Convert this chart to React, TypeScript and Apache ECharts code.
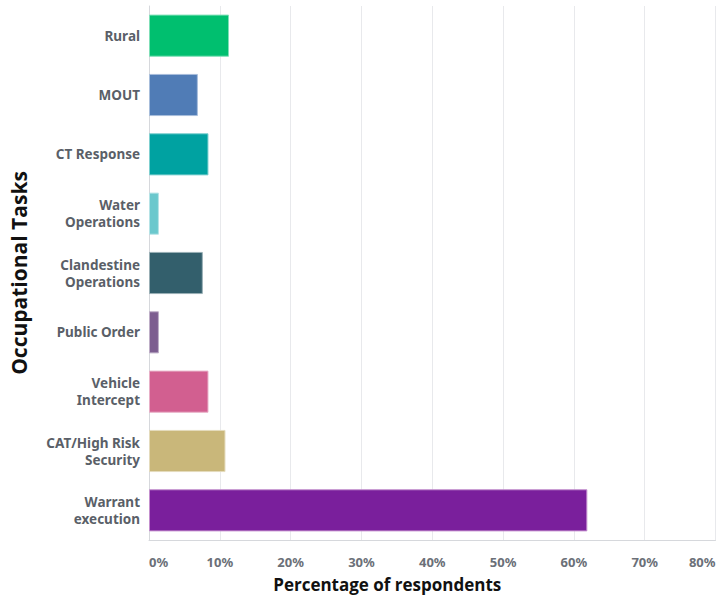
import React, { useEffect, useRef } from "react";
import * as echarts from "echarts";

const categories = [
  "Rural",
  "MOUT",
  "CT Response",
  "Water\nOperations",
  "Clandestine\nOperations",
  "Public Order",
  "Vehicle\nIntercept",
  "CAT/High Risk\nSecurity",
  "Warrant\nexecution",
];
const values = [11.3, 6.9, 8.4, 1.4, 7.6, 1.4, 8.4, 10.8, 61.9];
const colors = [
  "#00BF6F",
  "#507CB6",
  "#00A2A1",
  "#6BC8CD",
  "#335F6C",
  "#7D5E90",
  "#D25F90",
  "#C9B77A",
  "#7A1F9C",
];
const borderColors = [
  "#7fdfb7",
  "#a7bddb",
  "#7fd0d0",
  "#b5e3e6",
  "#99afb5",
  "#beaec7",
  "#e8afc7",
  "#e4dbbc",
  "#c48fce",
];

export default function App() {
  const ref = useRef<HTMLDivElement>(null);
  useEffect(() => {
    if (!ref.current) return;
    const chart = echarts.init(ref.current, null, { renderer: "svg" });
    chart.setOption({
      animation: false,
      backgroundColor: "#ffffff",
      grid: { left: 147.5, right: 6.5, top: 6, bottom: 63, containLabel: false },
      xAxis: {
        type: "value",
        min: 0,
        max: 80,
        interval: 10,
        name: "Percentage of respondents",
        nameLocation: "middle",
        nameGap: 36,
        nameTextStyle: {
          fontFamily: "Open Sans",
          fontWeight: "bold",
          fontSize: 17,
          color: "#111111",
          padding: [0, 90, 0, 0],
        },
        axisLine: { show: true, lineStyle: { color: "#d6d8dc", width: 1 } },
        axisTick: { show: false },
        splitLine: { show: true, lineStyle: { color: "#e8e9ec", width: 1 } },
        axisLabel: {
          formatter: "{value}%",
          margin: 15,
          fontFamily: "Noto Sans",
          fontWeight: "bold",
          fontSize: 13,
          color: "#6b7078",
          alignMinLabel: "left",
          alignMaxLabel: "right",
        },
      },
      yAxis: {
        type: "category",
        data: categories,
        inverse: true,
        name: "Occupational Tasks",
        nameLocation: "middle",
        nameGap: 120,
        nameRotate: 90,
        nameTextStyle: {
          fontFamily: "Open Sans",
          fontWeight: "bold",
          fontSize: 21,
          color: "#111111",
        },
        axisLine: { show: true, lineStyle: { color: "#d6d8dc", width: 1 } },
        axisTick: { show: false },
        splitLine: { show: false },
        axisLabel: {
          margin: 9,
          fontFamily: "Noto Sans",
          fontWeight: "bold",
          fontSize: 13.5,
          lineHeight: 17,
          color: "#5a5f68",
          align: "right",
        },
      },
      series: [
        {
          type: "bar",
          data: values.map((v, i) => ({
            value: v,
            itemStyle: {
              color: colors[i],
              borderColor: borderColors[i],
              borderWidth: 1,
            },
          })),
          barCategoryGap: "29%",
          label: { show: false },
        },
      ],
    });
    return () => chart.dispose();
  }, []);
  return (
    <div
      ref={ref}
      style={{ position: "fixed", left: 0, top: 0, width: 722, height: 603 }}
    />
  );
}
